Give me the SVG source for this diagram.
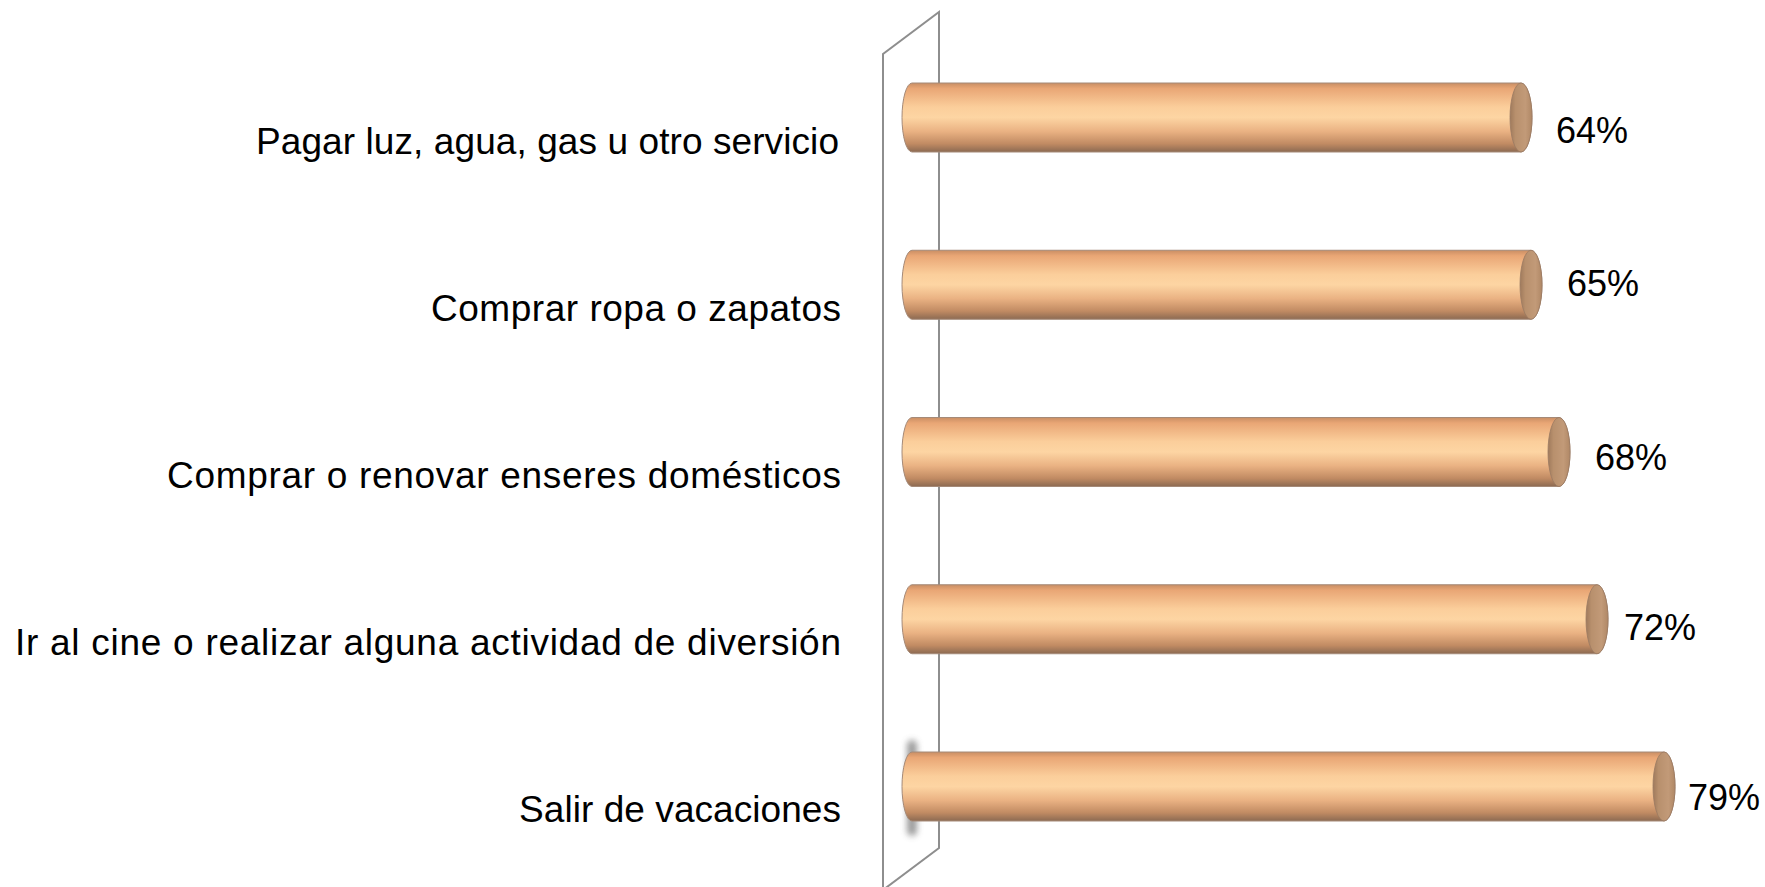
<svg xmlns="http://www.w3.org/2000/svg" width="1765" height="887" viewBox="0 0 1765 887">
  <defs>
    <linearGradient id="body" x1="0" y1="0" x2="0" y2="1">
      <stop offset="0" stop-color="#c98e64"/>
      <stop offset="0.08" stop-color="#e9a675"/>
      <stop offset="0.35" stop-color="#fbce9b"/>
      <stop offset="0.5" stop-color="#fdd5a3"/>
      <stop offset="0.7" stop-color="#eab283"/>
      <stop offset="0.88" stop-color="#c18b63"/>
      <stop offset="1" stop-color="#8c6a52"/>
    </linearGradient>
    <linearGradient id="cap" x1="0" y1="0" x2="1" y2="0">
      <stop offset="0" stop-color="#9f7a5c"/>
      <stop offset="0.25" stop-color="#b8906d"/>
      <stop offset="0.7" stop-color="#c29a78"/>
      <stop offset="1" stop-color="#b08866"/>
    </linearGradient>
    <filter id="blur" x="-2" y="-1" width="5" height="3">
      <feGaussianBlur stdDeviation="3"/>
    </filter>
  </defs>
  <style>
    .wall { fill: none; stroke: #8e8e8e; stroke-width: 2; }
    .bar { fill: url(#body); stroke: #a58a78; stroke-width: 1; }
    .cap { fill: url(#cap); stroke: #9a7a62; stroke-width: 0.8; }
    .lbl { font-family: "Liberation Sans", Arial, sans-serif; font-size: 37px; fill: #000; text-anchor: end; }
    .val { font-family: "Liberation Sans", Arial, sans-serif; font-size: 36px; fill: #000; }
  </style>
  <rect width="1765" height="887" fill="#ffffff"/>

  <g id="wall">
    <path class="wall" d="M883 890 L883 54 L939 12 L939 848 L883 890"/>
    <rect x="907" y="740" width="10" height="96" rx="5" fill="#8a8a8a" opacity="0.85" filter="url(#blur)"/>
  </g>

  <g id="connectors"></g>

  <g id="bar-pagar">
    <path class="bar" d="M912 83 H1521 A11 34.5 0 0 1 1521 152 H912 A10 34.5 0 0 1 912 83 Z"/>
    <ellipse class="cap" cx="1521" cy="117.5" rx="11" ry="34.5"/>
    <text class="lbl" x="839" y="154" textLength="583">Pagar luz, agua, gas u otro servicio</text>
    <text class="val" x="1556" y="143">64%</text>
  </g>

  <g id="bar-ropa">
    <path class="bar" d="M912 250.25 H1531 A11 34.5 0 0 1 1531 319.25 H912 A10 34.5 0 0 1 912 250.25 Z"/>
    <ellipse class="cap" cx="1531" cy="284.75" rx="11" ry="34.5"/>
    <text class="lbl" x="841" y="321" textLength="410">Comprar ropa o zapatos</text>
    <text class="val" x="1567" y="296">65%</text>
  </g>

  <g id="bar-enseres">
    <path class="bar" d="M912 417.5 H1559 A11 34.5 0 0 1 1559 486.5 H912 A10 34.5 0 0 1 912 417.5 Z"/>
    <ellipse class="cap" cx="1559" cy="452" rx="11" ry="34.5"/>
    <text class="lbl" x="841" y="488" textLength="674">Comprar o renovar enseres domésticos</text>
    <text class="val" x="1595" y="470">68%</text>
  </g>

  <g id="bar-cine">
    <path class="bar" d="M912 584.75 H1597 A11 34.5 0 0 1 1597 653.75 H912 A10 34.5 0 0 1 912 584.75 Z"/>
    <ellipse class="cap" cx="1597" cy="619.25" rx="11" ry="34.5"/>
    <text class="lbl" x="841" y="655" textLength="826">Ir al cine o realizar alguna actividad de diversión</text>
    <text class="val" x="1624" y="640">72%</text>
  </g>

  <g id="bar-vacaciones">
    <path class="bar" d="M912 752 H1664 A11 34.5 0 0 1 1664 821 H912 A10 34.5 0 0 1 912 752 Z"/>
    <ellipse class="cap" cx="1664" cy="786.5" rx="11" ry="34.5"/>
    <text class="lbl" x="841" y="822" textLength="322">Salir de vacaciones</text>
    <text class="val" x="1688" y="810">79%</text>
  </g>
</svg>
